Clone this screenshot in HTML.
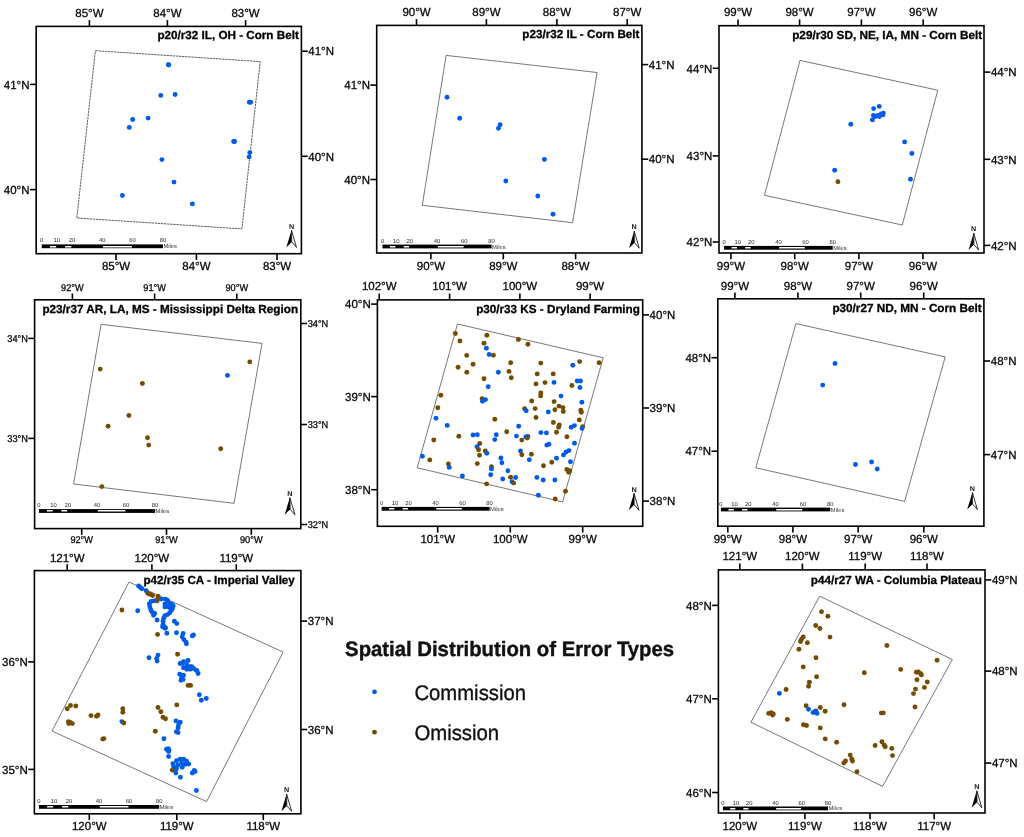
<!DOCTYPE html>
<html><head><meta charset="utf-8"><style>
html,body{margin:0;padding:0;background:#fff;}
svg{display:block;will-change:transform;text-rendering:geometricPrecision;}
text{font-family:"Liberation Sans", sans-serif;}
.ax{stroke:#111;stroke-width:0.3;}
</style></head><body>
<svg width="1024" height="837" viewBox="0 0 1024 837">
<rect width="1024" height="837" fill="#fff"/>
<text x="345.1" y="655.6" font-size="20.8" font-weight="bold" fill="#111" stroke="#111" stroke-width="0.4" textLength="329" lengthAdjust="spacingAndGlyphs">Spatial Distribution of Error Types</text>
<circle cx="374.5" cy="691.8" r="2.4" fill="#005CE6"/>
<circle cx="374.5" cy="732.2" r="2.4" fill="#734C00"/>
<text x="414.4" y="699.9" font-size="21.3" fill="#111" stroke="#111" stroke-width="0.35" textLength="111.6" lengthAdjust="spacingAndGlyphs">Commission</text>
<text x="414.5" y="740.0" font-size="21.3" fill="#111" stroke="#111" stroke-width="0.35" textLength="84.6" lengthAdjust="spacingAndGlyphs">Omission</text>
<g>
<rect x="36.2" y="26.4" width="265.20" height="227.30" fill="none" stroke="#000" stroke-width="1.6"/>
<line x1="89.4" y1="20.099999999999998" x2="89.4" y2="26.4" stroke="#000" stroke-width="1.6"/>
<text x="89.40" y="16.90" font-size="11.73" text-anchor="middle" class="ax" textLength="28.24" lengthAdjust="spacingAndGlyphs">85°W</text>
<line x1="167.4" y1="20.099999999999998" x2="167.4" y2="26.4" stroke="#000" stroke-width="1.6"/>
<text x="167.40" y="16.90" font-size="11.73" text-anchor="middle" class="ax" textLength="28.24" lengthAdjust="spacingAndGlyphs">84°W</text>
<line x1="245.6" y1="20.099999999999998" x2="245.6" y2="26.4" stroke="#000" stroke-width="1.6"/>
<text x="245.60" y="16.90" font-size="11.73" text-anchor="middle" class="ax" textLength="28.24" lengthAdjust="spacingAndGlyphs">83°W</text>
<line x1="116.0" y1="253.7" x2="116.0" y2="260.0" stroke="#000" stroke-width="1.6"/>
<text x="116.00" y="270.40" font-size="11.73" text-anchor="middle" class="ax" textLength="28.24" lengthAdjust="spacingAndGlyphs">85°W</text>
<line x1="196.4" y1="253.7" x2="196.4" y2="260.0" stroke="#000" stroke-width="1.6"/>
<text x="196.40" y="270.40" font-size="11.73" text-anchor="middle" class="ax" textLength="28.24" lengthAdjust="spacingAndGlyphs">84°W</text>
<line x1="277.0" y1="253.7" x2="277.0" y2="260.0" stroke="#000" stroke-width="1.6"/>
<text x="277.00" y="270.40" font-size="11.73" text-anchor="middle" class="ax" textLength="28.24" lengthAdjust="spacingAndGlyphs">83°W</text>
<line x1="29.900000000000002" y1="84.4" x2="36.2" y2="84.4" stroke="#000" stroke-width="1.6"/>
<text x="29.50" y="88.64" font-size="11.73" text-anchor="end" class="ax" textLength="25.69" lengthAdjust="spacingAndGlyphs">41°N</text>
<line x1="29.900000000000002" y1="189.6" x2="36.2" y2="189.6" stroke="#000" stroke-width="1.6"/>
<text x="29.50" y="193.84" font-size="11.73" text-anchor="end" class="ax" textLength="25.69" lengthAdjust="spacingAndGlyphs">40°N</text>
<line x1="301.4" y1="51.2" x2="307.7" y2="51.2" stroke="#000" stroke-width="1.6"/>
<text x="308.30" y="55.44" font-size="11.73" text-anchor="start" class="ax" textLength="25.69" lengthAdjust="spacingAndGlyphs">41°N</text>
<line x1="301.4" y1="156.3" x2="307.7" y2="156.3" stroke="#000" stroke-width="1.6"/>
<text x="308.30" y="160.54" font-size="11.73" text-anchor="start" class="ax" textLength="25.69" lengthAdjust="spacingAndGlyphs">40°N</text>
<text x="298.80" y="38.75" font-size="11.7" text-anchor="end" font-weight="bold" fill="#000" textLength="141.4" lengthAdjust="spacingAndGlyphs" stroke="#000" stroke-width="0.3">p20/r32 IL, OH - Corn Belt</text>
<polygon points="95.4,50.7 260.2,61.6 241.9,228.9 76.8,218.0" fill="none" stroke="#333" stroke-width="0.8" stroke-dasharray="2.4,0.7"/>
<circle cx="168.8" cy="65.0" r="2.45" fill="#005CE6"/>
<circle cx="168.3" cy="64.6" r="2.45" fill="#005CE6"/>
<circle cx="160.8" cy="95.4" r="2.45" fill="#005CE6"/>
<circle cx="175.1" cy="94.5" r="2.45" fill="#005CE6"/>
<circle cx="249.3" cy="102.2" r="2.45" fill="#005CE6"/>
<circle cx="250.7" cy="102.2" r="2.45" fill="#005CE6"/>
<circle cx="132.7" cy="119.5" r="2.45" fill="#005CE6"/>
<circle cx="148.1" cy="118.1" r="2.45" fill="#005CE6"/>
<circle cx="129.3" cy="127.4" r="2.45" fill="#005CE6"/>
<circle cx="233.6" cy="141.5" r="2.45" fill="#005CE6"/>
<circle cx="234.6" cy="141.5" r="2.45" fill="#005CE6"/>
<circle cx="249.8" cy="152.6" r="2.45" fill="#005CE6"/>
<circle cx="249.1" cy="156.9" r="2.45" fill="#005CE6"/>
<circle cx="161.9" cy="159.6" r="2.45" fill="#005CE6"/>
<circle cx="174.0" cy="182.1" r="2.45" fill="#005CE6"/>
<circle cx="122.4" cy="195.5" r="2.45" fill="#005CE6"/>
<circle cx="192.4" cy="203.9" r="2.45" fill="#005CE6"/>
<rect x="41.70" y="244.40" width="121.20" height="3.8" fill="#000"/>
<rect x="49.98" y="246.00" width="6.18" height="1.5" fill="#fff"/>
<rect x="65.13" y="246.00" width="6.18" height="1.5" fill="#fff"/>
<rect x="103.00" y="246.00" width="28.90" height="1.5" fill="#fff"/>
<text x="41.70" y="242.40" font-size="5.8" text-anchor="middle" fill="#222">0</text>
<text x="56.85" y="242.40" font-size="5.8" text-anchor="middle" fill="#222">10</text>
<text x="72.00" y="242.40" font-size="5.8" text-anchor="middle" fill="#222">20</text>
<text x="102.30" y="242.40" font-size="5.8" text-anchor="middle" fill="#222">40</text>
<text x="132.60" y="242.40" font-size="5.8" text-anchor="middle" fill="#222">60</text>
<text x="162.90" y="242.40" font-size="5.8" text-anchor="middle" fill="#222">80</text>
<text x="163.40" y="248.30" font-size="5.8" text-anchor="start" fill="#333">Miles</text>
<text x="291.50" y="228.60" font-size="7.0" font-weight="bold" text-anchor="middle" fill="#111" textLength="5.2" lengthAdjust="spacingAndGlyphs">N</text>
<path d="M291.50,230.30 L286.30,247.40 L291.70,241.90 Z" fill="#000"/>
<path d="M291.50,230.30 L296.50,247.40 L291.70,241.90 Z" fill="#fff" stroke="#000" stroke-width="0.8" stroke-linejoin="round"/>
</g>
<g>
<rect x="376.7" y="25.4" width="265.20" height="227.60" fill="none" stroke="#000" stroke-width="1.6"/>
<line x1="416.5" y1="19.099999999999998" x2="416.5" y2="25.4" stroke="#000" stroke-width="1.6"/>
<text x="416.50" y="16.10" font-size="11.73" text-anchor="middle" class="ax" textLength="28.24" lengthAdjust="spacingAndGlyphs">90°W</text>
<line x1="486.4" y1="19.099999999999998" x2="486.4" y2="25.4" stroke="#000" stroke-width="1.6"/>
<text x="486.40" y="16.10" font-size="11.73" text-anchor="middle" class="ax" textLength="28.24" lengthAdjust="spacingAndGlyphs">89°W</text>
<line x1="556.9" y1="19.099999999999998" x2="556.9" y2="25.4" stroke="#000" stroke-width="1.6"/>
<text x="556.90" y="16.10" font-size="11.73" text-anchor="middle" class="ax" textLength="28.24" lengthAdjust="spacingAndGlyphs">88°W</text>
<line x1="627.2" y1="19.099999999999998" x2="627.2" y2="25.4" stroke="#000" stroke-width="1.6"/>
<text x="627.20" y="16.10" font-size="11.73" text-anchor="middle" class="ax" textLength="28.24" lengthAdjust="spacingAndGlyphs">87°W</text>
<line x1="430.9" y1="253.0" x2="430.9" y2="259.3" stroke="#000" stroke-width="1.6"/>
<text x="430.90" y="269.50" font-size="11.73" text-anchor="middle" class="ax" textLength="28.24" lengthAdjust="spacingAndGlyphs">90°W</text>
<line x1="503.3" y1="253.0" x2="503.3" y2="259.3" stroke="#000" stroke-width="1.6"/>
<text x="503.30" y="269.50" font-size="11.73" text-anchor="middle" class="ax" textLength="28.24" lengthAdjust="spacingAndGlyphs">89°W</text>
<line x1="575.6" y1="253.0" x2="575.6" y2="259.3" stroke="#000" stroke-width="1.6"/>
<text x="575.60" y="269.50" font-size="11.73" text-anchor="middle" class="ax" textLength="28.24" lengthAdjust="spacingAndGlyphs">88°W</text>
<line x1="370.4" y1="85.1" x2="376.7" y2="85.1" stroke="#000" stroke-width="1.6"/>
<text x="370.00" y="89.34" font-size="11.73" text-anchor="end" class="ax" textLength="25.69" lengthAdjust="spacingAndGlyphs">41°N</text>
<line x1="370.4" y1="179.5" x2="376.7" y2="179.5" stroke="#000" stroke-width="1.6"/>
<text x="370.00" y="183.74" font-size="11.73" text-anchor="end" class="ax" textLength="25.69" lengthAdjust="spacingAndGlyphs">40°N</text>
<line x1="641.9" y1="64.6" x2="648.1999999999999" y2="64.6" stroke="#000" stroke-width="1.6"/>
<text x="648.80" y="68.84" font-size="11.73" text-anchor="start" class="ax" textLength="25.69" lengthAdjust="spacingAndGlyphs">41°N</text>
<line x1="641.9" y1="159.2" x2="648.1999999999999" y2="159.2" stroke="#000" stroke-width="1.6"/>
<text x="648.80" y="163.44" font-size="11.73" text-anchor="start" class="ax" textLength="25.69" lengthAdjust="spacingAndGlyphs">40°N</text>
<text x="639.50" y="37.80" font-size="11.7" text-anchor="end" font-weight="bold" fill="#000" textLength="117.2" lengthAdjust="spacingAndGlyphs" stroke="#000" stroke-width="0.3">p23/r32 IL - Corn Belt</text>
<polygon points="446.1,55.4 597.1,72.5 572.6,222.7 422.3,205.3" fill="none" stroke="#555" stroke-width="0.8"/>
<circle cx="447.0" cy="97.2" r="2.45" fill="#005CE6"/>
<circle cx="459.7" cy="118.3" r="2.45" fill="#005CE6"/>
<circle cx="500.1" cy="124.7" r="2.45" fill="#005CE6"/>
<circle cx="498.5" cy="128.3" r="2.45" fill="#005CE6"/>
<circle cx="544.4" cy="159.4" r="2.45" fill="#005CE6"/>
<circle cx="505.8" cy="181.0" r="2.45" fill="#005CE6"/>
<circle cx="537.8" cy="196.0" r="2.45" fill="#005CE6"/>
<circle cx="553.0" cy="214.3" r="2.45" fill="#005CE6"/>
<rect x="382.50" y="244.60" width="109.10" height="3.8" fill="#000"/>
<rect x="390.02" y="246.00" width="5.42" height="1.5" fill="#fff"/>
<rect x="403.66" y="246.00" width="5.42" height="1.5" fill="#fff"/>
<rect x="437.75" y="246.00" width="25.88" height="1.5" fill="#fff"/>
<text x="382.50" y="242.60" font-size="5.8" text-anchor="middle" fill="#222">0</text>
<text x="396.14" y="242.60" font-size="5.8" text-anchor="middle" fill="#222">10</text>
<text x="409.77" y="242.60" font-size="5.8" text-anchor="middle" fill="#222">20</text>
<text x="437.05" y="242.60" font-size="5.8" text-anchor="middle" fill="#222">40</text>
<text x="464.33" y="242.60" font-size="5.8" text-anchor="middle" fill="#222">60</text>
<text x="491.60" y="242.60" font-size="5.8" text-anchor="middle" fill="#222">80</text>
<text x="492.10" y="248.50" font-size="5.8" text-anchor="start" fill="#333">Miles</text>
<text x="634.20" y="229.40" font-size="7.0" font-weight="bold" text-anchor="middle" fill="#111" textLength="5.2" lengthAdjust="spacingAndGlyphs">N</text>
<path d="M634.20,231.10 L629.00,248.20 L634.40,242.70 Z" fill="#000"/>
<path d="M634.20,231.10 L639.20,248.20 L634.40,242.70 Z" fill="#fff" stroke="#000" stroke-width="0.8" stroke-linejoin="round"/>
</g>
<g>
<rect x="719.0" y="25.7" width="265.00" height="227.30" fill="none" stroke="#000" stroke-width="1.6"/>
<line x1="738.0" y1="19.4" x2="738.0" y2="25.7" stroke="#000" stroke-width="1.6"/>
<text x="738.00" y="16.10" font-size="11.73" text-anchor="middle" class="ax" textLength="28.24" lengthAdjust="spacingAndGlyphs">99°W</text>
<line x1="799.6" y1="19.4" x2="799.6" y2="25.7" stroke="#000" stroke-width="1.6"/>
<text x="799.60" y="16.10" font-size="11.73" text-anchor="middle" class="ax" textLength="28.24" lengthAdjust="spacingAndGlyphs">98°W</text>
<line x1="861.4" y1="19.4" x2="861.4" y2="25.7" stroke="#000" stroke-width="1.6"/>
<text x="861.40" y="16.10" font-size="11.73" text-anchor="middle" class="ax" textLength="28.24" lengthAdjust="spacingAndGlyphs">97°W</text>
<line x1="923.2" y1="19.4" x2="923.2" y2="25.7" stroke="#000" stroke-width="1.6"/>
<text x="923.20" y="16.10" font-size="11.73" text-anchor="middle" class="ax" textLength="28.24" lengthAdjust="spacingAndGlyphs">96°W</text>
<line x1="730.9" y1="253.0" x2="730.9" y2="259.3" stroke="#000" stroke-width="1.6"/>
<text x="730.90" y="269.70" font-size="11.73" text-anchor="middle" class="ax" textLength="28.24" lengthAdjust="spacingAndGlyphs">99°W</text>
<line x1="794.7" y1="253.0" x2="794.7" y2="259.3" stroke="#000" stroke-width="1.6"/>
<text x="794.70" y="269.70" font-size="11.73" text-anchor="middle" class="ax" textLength="28.24" lengthAdjust="spacingAndGlyphs">98°W</text>
<line x1="858.9" y1="253.0" x2="858.9" y2="259.3" stroke="#000" stroke-width="1.6"/>
<text x="858.90" y="269.70" font-size="11.73" text-anchor="middle" class="ax" textLength="28.24" lengthAdjust="spacingAndGlyphs">97°W</text>
<line x1="922.9" y1="253.0" x2="922.9" y2="259.3" stroke="#000" stroke-width="1.6"/>
<text x="922.90" y="269.70" font-size="11.73" text-anchor="middle" class="ax" textLength="28.24" lengthAdjust="spacingAndGlyphs">96°W</text>
<line x1="712.7" y1="68.3" x2="719.0" y2="68.3" stroke="#000" stroke-width="1.6"/>
<text x="712.30" y="72.54" font-size="11.73" text-anchor="end" class="ax" textLength="25.69" lengthAdjust="spacingAndGlyphs">44°N</text>
<line x1="712.7" y1="155.9" x2="719.0" y2="155.9" stroke="#000" stroke-width="1.6"/>
<text x="712.30" y="160.14" font-size="11.73" text-anchor="end" class="ax" textLength="25.69" lengthAdjust="spacingAndGlyphs">43°N</text>
<line x1="712.7" y1="242.0" x2="719.0" y2="242.0" stroke="#000" stroke-width="1.6"/>
<text x="712.30" y="246.24" font-size="11.73" text-anchor="end" class="ax" textLength="25.69" lengthAdjust="spacingAndGlyphs">42°N</text>
<line x1="984.0" y1="72.1" x2="990.3" y2="72.1" stroke="#000" stroke-width="1.6"/>
<text x="990.90" y="76.34" font-size="11.73" text-anchor="start" class="ax" textLength="25.69" lengthAdjust="spacingAndGlyphs">44°N</text>
<line x1="984.0" y1="159.3" x2="990.3" y2="159.3" stroke="#000" stroke-width="1.6"/>
<text x="990.90" y="163.54" font-size="11.73" text-anchor="start" class="ax" textLength="25.69" lengthAdjust="spacingAndGlyphs">43°N</text>
<line x1="984.0" y1="245.4" x2="990.3" y2="245.4" stroke="#000" stroke-width="1.6"/>
<text x="990.90" y="249.64" font-size="11.73" text-anchor="start" class="ax" textLength="25.69" lengthAdjust="spacingAndGlyphs">42°N</text>
<text x="982.20" y="39.10" font-size="11.7" text-anchor="end" font-weight="bold" fill="#000" textLength="190" lengthAdjust="spacingAndGlyphs" stroke="#000" stroke-width="0.3">p29/r30 SD, NE, IA, MN - Corn Belt</text>
<polygon points="800.0,60.4 937.8,90.2 902.3,225.0 764.5,195.3" fill="none" stroke="#555" stroke-width="0.8"/>
<circle cx="873.6" cy="108.6" r="2.45" fill="#005CE6"/>
<circle cx="879.2" cy="106.4" r="2.45" fill="#005CE6"/>
<circle cx="873.4" cy="115.4" r="2.45" fill="#005CE6"/>
<circle cx="872.4" cy="119.9" r="2.45" fill="#005CE6"/>
<circle cx="876.5" cy="116.1" r="2.45" fill="#005CE6"/>
<circle cx="879.4" cy="116.5" r="2.45" fill="#005CE6"/>
<circle cx="881.2" cy="114.0" r="2.45" fill="#005CE6"/>
<circle cx="883.3" cy="113.1" r="2.45" fill="#005CE6"/>
<circle cx="882.9" cy="114.9" r="2.45" fill="#005CE6"/>
<circle cx="874.8" cy="116.5" r="2.45" fill="#005CE6"/>
<circle cx="878.0" cy="115.5" r="2.45" fill="#005CE6"/>
<circle cx="850.8" cy="124.2" r="2.45" fill="#005CE6"/>
<circle cx="904.6" cy="141.9" r="2.45" fill="#005CE6"/>
<circle cx="911.9" cy="153.5" r="2.45" fill="#005CE6"/>
<circle cx="834.7" cy="170.3" r="2.45" fill="#005CE6"/>
<circle cx="910.5" cy="179.2" r="2.45" fill="#005CE6"/>
<circle cx="837.9" cy="181.7" r="2.45" fill="#734C00"/>
<rect x="724.10" y="245.90" width="108.60" height="3.8" fill="#000"/>
<rect x="731.59" y="247.00" width="5.39" height="1.5" fill="#fff"/>
<rect x="745.16" y="247.00" width="5.39" height="1.5" fill="#fff"/>
<rect x="779.10" y="247.00" width="25.75" height="1.5" fill="#fff"/>
<text x="724.10" y="243.90" font-size="5.8" text-anchor="middle" fill="#222">0</text>
<text x="737.68" y="243.90" font-size="5.8" text-anchor="middle" fill="#222">10</text>
<text x="751.25" y="243.90" font-size="5.8" text-anchor="middle" fill="#222">20</text>
<text x="778.40" y="243.90" font-size="5.8" text-anchor="middle" fill="#222">40</text>
<text x="805.55" y="243.90" font-size="5.8" text-anchor="middle" fill="#222">60</text>
<text x="832.70" y="243.90" font-size="5.8" text-anchor="middle" fill="#222">80</text>
<text x="833.20" y="249.80" font-size="5.8" text-anchor="start" fill="#333">Miles</text>
<text x="973.70" y="231.30" font-size="7.0" font-weight="bold" text-anchor="middle" fill="#111" textLength="5.2" lengthAdjust="spacingAndGlyphs">N</text>
<path d="M973.70,233.00 L968.50,250.10 L973.90,244.60 Z" fill="#000"/>
<path d="M973.70,233.00 L978.70,250.10 L973.90,244.60 Z" fill="#fff" stroke="#000" stroke-width="0.8" stroke-linejoin="round"/>
</g>
<g>
<rect x="34.6" y="299.8" width="266.20" height="228.80" fill="none" stroke="#000" stroke-width="1.6"/>
<line x1="72.4" y1="293.5" x2="72.4" y2="299.8" stroke="#000" stroke-width="1.6"/>
<text x="72.40" y="291.30" font-size="9.84" text-anchor="middle" class="ax" textLength="22.59" lengthAdjust="spacingAndGlyphs">92°W</text>
<line x1="154.6" y1="293.5" x2="154.6" y2="299.8" stroke="#000" stroke-width="1.6"/>
<text x="154.60" y="291.30" font-size="9.84" text-anchor="middle" class="ax" textLength="22.59" lengthAdjust="spacingAndGlyphs">91°W</text>
<line x1="236.8" y1="293.5" x2="236.8" y2="299.8" stroke="#000" stroke-width="1.6"/>
<text x="236.80" y="291.30" font-size="9.84" text-anchor="middle" class="ax" textLength="22.59" lengthAdjust="spacingAndGlyphs">90°W</text>
<line x1="81.7" y1="528.6" x2="81.7" y2="534.9" stroke="#000" stroke-width="1.6"/>
<text x="81.70" y="543.10" font-size="9.84" text-anchor="middle" class="ax" textLength="22.59" lengthAdjust="spacingAndGlyphs">92°W</text>
<line x1="166.5" y1="528.6" x2="166.5" y2="534.9" stroke="#000" stroke-width="1.6"/>
<text x="166.50" y="543.10" font-size="9.84" text-anchor="middle" class="ax" textLength="22.59" lengthAdjust="spacingAndGlyphs">91°W</text>
<line x1="251.3" y1="528.6" x2="251.3" y2="534.9" stroke="#000" stroke-width="1.6"/>
<text x="251.30" y="543.10" font-size="9.84" text-anchor="middle" class="ax" textLength="22.59" lengthAdjust="spacingAndGlyphs">90°W</text>
<line x1="28.3" y1="338.4" x2="34.6" y2="338.4" stroke="#000" stroke-width="1.6"/>
<text x="27.90" y="341.81" font-size="9.84" text-anchor="end" class="ax" textLength="20.55" lengthAdjust="spacingAndGlyphs">34°N</text>
<line x1="28.3" y1="438.4" x2="34.6" y2="438.4" stroke="#000" stroke-width="1.6"/>
<text x="27.90" y="441.81" font-size="9.84" text-anchor="end" class="ax" textLength="20.55" lengthAdjust="spacingAndGlyphs">33°N</text>
<line x1="300.8" y1="323.5" x2="307.1" y2="323.5" stroke="#000" stroke-width="1.6"/>
<text x="307.70" y="326.91" font-size="9.84" text-anchor="start" class="ax" textLength="20.55" lengthAdjust="spacingAndGlyphs">34°N</text>
<line x1="300.8" y1="424.5" x2="307.1" y2="424.5" stroke="#000" stroke-width="1.6"/>
<text x="307.70" y="427.91" font-size="9.84" text-anchor="start" class="ax" textLength="20.55" lengthAdjust="spacingAndGlyphs">33°N</text>
<line x1="300.8" y1="524.5" x2="307.1" y2="524.5" stroke="#000" stroke-width="1.6"/>
<text x="307.70" y="527.91" font-size="9.84" text-anchor="start" class="ax" textLength="20.55" lengthAdjust="spacingAndGlyphs">32°N</text>
<text x="298.10" y="313.20" font-size="11.7" text-anchor="end" font-weight="bold" fill="#000" textLength="255.7" lengthAdjust="spacingAndGlyphs" stroke="#000" stroke-width="0.3">p23/r37 AR, LA, MS - Mississippi Delta Region</text>
<polygon points="101.1,324.3 262.0,343.4 234.0,503.3 73.6,484.0" fill="none" stroke="#555" stroke-width="0.8"/>
<circle cx="100.2" cy="369.1" r="2.45" fill="#734C00"/>
<circle cx="249.8" cy="361.9" r="2.45" fill="#734C00"/>
<circle cx="227.5" cy="375.4" r="2.45" fill="#005CE6"/>
<circle cx="142.4" cy="383.5" r="2.45" fill="#734C00"/>
<circle cx="128.9" cy="415.5" r="2.45" fill="#734C00"/>
<circle cx="108.1" cy="426.2" r="2.45" fill="#734C00"/>
<circle cx="147.5" cy="437.8" r="2.45" fill="#734C00"/>
<circle cx="148.7" cy="445.1" r="2.45" fill="#734C00"/>
<circle cx="220.7" cy="448.8" r="2.45" fill="#734C00"/>
<circle cx="101.8" cy="486.6" r="2.45" fill="#734C00"/>
<rect x="38.90" y="509.10" width="116.20" height="3.8" fill="#000"/>
<rect x="46.86" y="510.00" width="5.86" height="1.5" fill="#fff"/>
<rect x="61.39" y="510.00" width="5.86" height="1.5" fill="#fff"/>
<rect x="97.70" y="510.00" width="27.65" height="1.5" fill="#fff"/>
<text x="38.90" y="507.10" font-size="5.8" text-anchor="middle" fill="#222">0</text>
<text x="53.42" y="507.10" font-size="5.8" text-anchor="middle" fill="#222">10</text>
<text x="67.95" y="507.10" font-size="5.8" text-anchor="middle" fill="#222">20</text>
<text x="97.00" y="507.10" font-size="5.8" text-anchor="middle" fill="#222">40</text>
<text x="126.05" y="507.10" font-size="5.8" text-anchor="middle" fill="#222">60</text>
<text x="155.10" y="507.10" font-size="5.8" text-anchor="middle" fill="#222">80</text>
<text x="155.60" y="513.00" font-size="5.8" text-anchor="start" fill="#333">Miles</text>
<text x="289.90" y="495.90" font-size="7.0" font-weight="bold" text-anchor="middle" fill="#111" textLength="5.2" lengthAdjust="spacingAndGlyphs">N</text>
<path d="M289.90,497.60 L284.70,514.70 L290.10,509.20 Z" fill="#000"/>
<path d="M289.90,497.60 L294.90,514.70 L290.10,509.20 Z" fill="#fff" stroke="#000" stroke-width="0.8" stroke-linejoin="round"/>
</g>
<g>
<rect x="377.4" y="299.9" width="265.30" height="226.40" fill="none" stroke="#000" stroke-width="1.6"/>
<line x1="379.2" y1="293.59999999999997" x2="379.2" y2="299.9" stroke="#000" stroke-width="1.6"/>
<text x="379.20" y="290.30" font-size="11.73" text-anchor="middle" class="ax" textLength="34.64" lengthAdjust="spacingAndGlyphs">102°W</text>
<line x1="449.6" y1="293.59999999999997" x2="449.6" y2="299.9" stroke="#000" stroke-width="1.6"/>
<text x="449.60" y="290.30" font-size="11.73" text-anchor="middle" class="ax" textLength="34.64" lengthAdjust="spacingAndGlyphs">101°W</text>
<line x1="519.9" y1="293.59999999999997" x2="519.9" y2="299.9" stroke="#000" stroke-width="1.6"/>
<text x="519.90" y="290.30" font-size="11.73" text-anchor="middle" class="ax" textLength="34.64" lengthAdjust="spacingAndGlyphs">100°W</text>
<line x1="590.1" y1="293.59999999999997" x2="590.1" y2="299.9" stroke="#000" stroke-width="1.6"/>
<text x="590.10" y="290.30" font-size="11.73" text-anchor="middle" class="ax" textLength="28.24" lengthAdjust="spacingAndGlyphs">99°W</text>
<line x1="437.7" y1="526.3" x2="437.7" y2="532.5999999999999" stroke="#000" stroke-width="1.6"/>
<text x="437.70" y="542.90" font-size="11.73" text-anchor="middle" class="ax" textLength="34.64" lengthAdjust="spacingAndGlyphs">101°W</text>
<line x1="510.3" y1="526.3" x2="510.3" y2="532.5999999999999" stroke="#000" stroke-width="1.6"/>
<text x="510.30" y="542.90" font-size="11.73" text-anchor="middle" class="ax" textLength="34.64" lengthAdjust="spacingAndGlyphs">100°W</text>
<line x1="582.7" y1="526.3" x2="582.7" y2="532.5999999999999" stroke="#000" stroke-width="1.6"/>
<text x="582.70" y="542.90" font-size="11.73" text-anchor="middle" class="ax" textLength="28.24" lengthAdjust="spacingAndGlyphs">99°W</text>
<line x1="371.09999999999997" y1="304.1" x2="377.4" y2="304.1" stroke="#000" stroke-width="1.6"/>
<text x="370.70" y="308.34" font-size="11.73" text-anchor="end" class="ax" textLength="25.69" lengthAdjust="spacingAndGlyphs">40°N</text>
<line x1="371.09999999999997" y1="396.6" x2="377.4" y2="396.6" stroke="#000" stroke-width="1.6"/>
<text x="370.70" y="400.84" font-size="11.73" text-anchor="end" class="ax" textLength="25.69" lengthAdjust="spacingAndGlyphs">39°N</text>
<line x1="371.09999999999997" y1="489.7" x2="377.4" y2="489.7" stroke="#000" stroke-width="1.6"/>
<text x="370.70" y="493.94" font-size="11.73" text-anchor="end" class="ax" textLength="25.69" lengthAdjust="spacingAndGlyphs">38°N</text>
<line x1="642.7" y1="314.9" x2="649.0" y2="314.9" stroke="#000" stroke-width="1.6"/>
<text x="649.60" y="319.14" font-size="11.73" text-anchor="start" class="ax" textLength="25.69" lengthAdjust="spacingAndGlyphs">40°N</text>
<line x1="642.7" y1="408.0" x2="649.0" y2="408.0" stroke="#000" stroke-width="1.6"/>
<text x="649.60" y="412.24" font-size="11.73" text-anchor="start" class="ax" textLength="25.69" lengthAdjust="spacingAndGlyphs">39°N</text>
<line x1="642.7" y1="501.1" x2="649.0" y2="501.1" stroke="#000" stroke-width="1.6"/>
<text x="649.60" y="505.34" font-size="11.73" text-anchor="start" class="ax" textLength="25.69" lengthAdjust="spacingAndGlyphs">38°N</text>
<text x="639.80" y="312.50" font-size="11.7" text-anchor="end" font-weight="bold" fill="#000" textLength="163.6" lengthAdjust="spacingAndGlyphs" stroke="#000" stroke-width="0.3">p30/r33 KS - Dryland Farming</text>
<polygon points="457.5,324.0 603.2,357.8 562.6,501.9 417.2,467.8" fill="none" stroke="#555" stroke-width="0.8"/>
<circle cx="455.4" cy="333.5" r="2.45" fill="#734C00"/>
<circle cx="486.9" cy="335.3" r="2.45" fill="#734C00"/>
<circle cx="518.4" cy="339.5" r="2.45" fill="#734C00"/>
<circle cx="459.9" cy="341.0" r="2.45" fill="#734C00"/>
<circle cx="484.0" cy="343.2" r="2.45" fill="#734C00"/>
<circle cx="486.4" cy="348.2" r="2.45" fill="#005CE6"/>
<circle cx="489.1" cy="354.5" r="2.45" fill="#005CE6"/>
<circle cx="493.4" cy="355.2" r="2.45" fill="#734C00"/>
<circle cx="466.7" cy="355.4" r="2.45" fill="#734C00"/>
<circle cx="510.7" cy="362.8" r="2.45" fill="#734C00"/>
<circle cx="473.1" cy="364.3" r="2.45" fill="#734C00"/>
<circle cx="458.1" cy="367.2" r="2.45" fill="#734C00"/>
<circle cx="466.8" cy="372.2" r="2.45" fill="#734C00"/>
<circle cx="498.3" cy="372.2" r="2.45" fill="#005CE6"/>
<circle cx="509.0" cy="371.4" r="2.45" fill="#734C00"/>
<circle cx="511.3" cy="377.7" r="2.45" fill="#734C00"/>
<circle cx="484.0" cy="378.7" r="2.45" fill="#734C00"/>
<circle cx="488.2" cy="386.7" r="2.45" fill="#005CE6"/>
<circle cx="440.8" cy="395.3" r="2.45" fill="#734C00"/>
<circle cx="482.1" cy="398.6" r="2.45" fill="#734C00"/>
<circle cx="485.5" cy="399.6" r="2.45" fill="#005CE6"/>
<circle cx="482.5" cy="401.2" r="2.45" fill="#005CE6"/>
<circle cx="437.8" cy="407.8" r="2.45" fill="#734C00"/>
<circle cx="527.9" cy="344.3" r="2.45" fill="#734C00"/>
<circle cx="540.8" cy="363.1" r="2.45" fill="#734C00"/>
<circle cx="579.6" cy="361.6" r="2.45" fill="#734C00"/>
<circle cx="572.8" cy="365.3" r="2.45" fill="#005CE6"/>
<circle cx="599.1" cy="362.8" r="2.45" fill="#734C00"/>
<circle cx="537.2" cy="373.9" r="2.45" fill="#734C00"/>
<circle cx="553.2" cy="373.9" r="2.45" fill="#734C00"/>
<circle cx="554.0" cy="382.4" r="2.45" fill="#005CE6"/>
<circle cx="545.0" cy="382.6" r="2.45" fill="#734C00"/>
<circle cx="536.0" cy="383.9" r="2.45" fill="#734C00"/>
<circle cx="577.2" cy="381.0" r="2.45" fill="#005CE6"/>
<circle cx="580.5" cy="381.0" r="2.45" fill="#005CE6"/>
<circle cx="579.9" cy="387.5" r="2.45" fill="#005CE6"/>
<circle cx="571.9" cy="385.5" r="2.45" fill="#734C00"/>
<circle cx="540.8" cy="393.0" r="2.45" fill="#734C00"/>
<circle cx="540.6" cy="395.9" r="2.45" fill="#734C00"/>
<circle cx="561.0" cy="396.1" r="2.45" fill="#005CE6"/>
<circle cx="531.7" cy="401.0" r="2.45" fill="#734C00"/>
<circle cx="554.1" cy="401.6" r="2.45" fill="#734C00"/>
<circle cx="581.9" cy="402.3" r="2.45" fill="#005CE6"/>
<circle cx="559.0" cy="406.1" r="2.45" fill="#734C00"/>
<circle cx="562.9" cy="407.6" r="2.45" fill="#734C00"/>
<circle cx="563.3" cy="411.5" r="2.45" fill="#734C00"/>
<circle cx="554.9" cy="409.8" r="2.45" fill="#734C00"/>
<circle cx="535.1" cy="408.6" r="2.45" fill="#734C00"/>
<circle cx="524.6" cy="408.8" r="2.45" fill="#734C00"/>
<circle cx="526.2" cy="410.8" r="2.45" fill="#005CE6"/>
<circle cx="548.3" cy="412.0" r="2.45" fill="#005CE6"/>
<circle cx="580.8" cy="410.2" r="2.45" fill="#734C00"/>
<circle cx="581.3" cy="412.3" r="2.45" fill="#734C00"/>
<circle cx="436.0" cy="418.3" r="2.45" fill="#005CE6"/>
<circle cx="447.2" cy="425.4" r="2.45" fill="#005CE6"/>
<circle cx="494.8" cy="419.2" r="2.45" fill="#734C00"/>
<circle cx="518.7" cy="426.3" r="2.45" fill="#005CE6"/>
<circle cx="506.7" cy="431.8" r="2.45" fill="#734C00"/>
<circle cx="516.5" cy="436.1" r="2.45" fill="#005CE6"/>
<circle cx="473.0" cy="435.0" r="2.45" fill="#005CE6"/>
<circle cx="477.3" cy="434.7" r="2.45" fill="#005CE6"/>
<circle cx="496.3" cy="434.7" r="2.45" fill="#005CE6"/>
<circle cx="494.8" cy="439.6" r="2.45" fill="#005CE6"/>
<circle cx="458.8" cy="436.3" r="2.45" fill="#734C00"/>
<circle cx="433.8" cy="440.0" r="2.45" fill="#734C00"/>
<circle cx="479.7" cy="443.5" r="2.45" fill="#734C00"/>
<circle cx="477.0" cy="446.8" r="2.45" fill="#005CE6"/>
<circle cx="478.6" cy="449.8" r="2.45" fill="#734C00"/>
<circle cx="485.2" cy="451.0" r="2.45" fill="#734C00"/>
<circle cx="486.9" cy="453.2" r="2.45" fill="#005CE6"/>
<circle cx="520.5" cy="451.0" r="2.45" fill="#005CE6"/>
<circle cx="479.5" cy="455.3" r="2.45" fill="#734C00"/>
<circle cx="422.4" cy="456.3" r="2.45" fill="#005CE6"/>
<circle cx="429.8" cy="459.9" r="2.45" fill="#734C00"/>
<circle cx="500.9" cy="458.0" r="2.45" fill="#005CE6"/>
<circle cx="501.9" cy="462.8" r="2.45" fill="#005CE6"/>
<circle cx="477.3" cy="463.6" r="2.45" fill="#734C00"/>
<circle cx="448.4" cy="464.0" r="2.45" fill="#734C00"/>
<circle cx="449.2" cy="467.4" r="2.45" fill="#005CE6"/>
<circle cx="491.5" cy="466.8" r="2.45" fill="#734C00"/>
<circle cx="491.5" cy="468.9" r="2.45" fill="#005CE6"/>
<circle cx="507.9" cy="470.8" r="2.45" fill="#005CE6"/>
<circle cx="490.7" cy="474.7" r="2.45" fill="#005CE6"/>
<circle cx="462.4" cy="476.0" r="2.45" fill="#005CE6"/>
<circle cx="510.6" cy="477.2" r="2.45" fill="#734C00"/>
<circle cx="515.6" cy="477.5" r="2.45" fill="#005CE6"/>
<circle cx="502.7" cy="479.0" r="2.45" fill="#005CE6"/>
<circle cx="512.0" cy="481.8" r="2.45" fill="#005CE6"/>
<circle cx="513.7" cy="483.1" r="2.45" fill="#734C00"/>
<circle cx="486.6" cy="483.9" r="2.45" fill="#734C00"/>
<circle cx="536.0" cy="417.5" r="2.45" fill="#734C00"/>
<circle cx="553.4" cy="422.5" r="2.45" fill="#734C00"/>
<circle cx="559.3" cy="425.0" r="2.45" fill="#734C00"/>
<circle cx="558.6" cy="427.3" r="2.45" fill="#734C00"/>
<circle cx="579.3" cy="419.9" r="2.45" fill="#734C00"/>
<circle cx="571.2" cy="427.3" r="2.45" fill="#005CE6"/>
<circle cx="574.4" cy="425.6" r="2.45" fill="#005CE6"/>
<circle cx="582.7" cy="426.7" r="2.45" fill="#734C00"/>
<circle cx="582.0" cy="428.4" r="2.45" fill="#005CE6"/>
<circle cx="540.9" cy="432.6" r="2.45" fill="#005CE6"/>
<circle cx="546.4" cy="432.9" r="2.45" fill="#005CE6"/>
<circle cx="556.5" cy="432.2" r="2.45" fill="#734C00"/>
<circle cx="525.8" cy="436.9" r="2.45" fill="#005CE6"/>
<circle cx="527.9" cy="436.5" r="2.45" fill="#005CE6"/>
<circle cx="527.2" cy="438.1" r="2.45" fill="#734C00"/>
<circle cx="521.8" cy="440.1" r="2.45" fill="#734C00"/>
<circle cx="566.9" cy="436.7" r="2.45" fill="#734C00"/>
<circle cx="574.5" cy="443.2" r="2.45" fill="#005CE6"/>
<circle cx="546.8" cy="445.1" r="2.45" fill="#005CE6"/>
<circle cx="548.9" cy="444.2" r="2.45" fill="#005CE6"/>
<circle cx="521.8" cy="454.7" r="2.45" fill="#734C00"/>
<circle cx="531.4" cy="454.3" r="2.45" fill="#734C00"/>
<circle cx="568.9" cy="450.6" r="2.45" fill="#005CE6"/>
<circle cx="566.1" cy="452.0" r="2.45" fill="#005CE6"/>
<circle cx="563.5" cy="454.9" r="2.45" fill="#005CE6"/>
<circle cx="529.3" cy="459.7" r="2.45" fill="#005CE6"/>
<circle cx="556.5" cy="458.2" r="2.45" fill="#005CE6"/>
<circle cx="551.8" cy="462.3" r="2.45" fill="#734C00"/>
<circle cx="570.5" cy="461.8" r="2.45" fill="#005CE6"/>
<circle cx="543.5" cy="465.8" r="2.45" fill="#734C00"/>
<circle cx="566.8" cy="469.4" r="2.45" fill="#734C00"/>
<circle cx="569.8" cy="470.7" r="2.45" fill="#734C00"/>
<circle cx="568.7" cy="472.3" r="2.45" fill="#734C00"/>
<circle cx="536.9" cy="477.4" r="2.45" fill="#005CE6"/>
<circle cx="543.2" cy="480.0" r="2.45" fill="#005CE6"/>
<circle cx="554.9" cy="480.0" r="2.45" fill="#005CE6"/>
<circle cx="565.5" cy="491.2" r="2.45" fill="#734C00"/>
<circle cx="538.4" cy="495.2" r="2.45" fill="#005CE6"/>
<circle cx="555.2" cy="499.0" r="2.45" fill="#734C00"/>
<rect x="381.60" y="506.90" width="108.00" height="3.8" fill="#000"/>
<rect x="389.05" y="508.00" width="5.35" height="1.5" fill="#fff"/>
<rect x="402.55" y="508.00" width="5.35" height="1.5" fill="#fff"/>
<rect x="436.30" y="508.00" width="25.60" height="1.5" fill="#fff"/>
<text x="381.60" y="504.90" font-size="5.8" text-anchor="middle" fill="#222">0</text>
<text x="395.10" y="504.90" font-size="5.8" text-anchor="middle" fill="#222">10</text>
<text x="408.60" y="504.90" font-size="5.8" text-anchor="middle" fill="#222">20</text>
<text x="435.60" y="504.90" font-size="5.8" text-anchor="middle" fill="#222">40</text>
<text x="462.60" y="504.90" font-size="5.8" text-anchor="middle" fill="#222">60</text>
<text x="489.60" y="504.90" font-size="5.8" text-anchor="middle" fill="#222">80</text>
<text x="490.10" y="510.80" font-size="5.8" text-anchor="start" fill="#333">Miles</text>
<text x="634.00" y="491.50" font-size="7.0" font-weight="bold" text-anchor="middle" fill="#111" textLength="5.2" lengthAdjust="spacingAndGlyphs">N</text>
<path d="M634.00,493.20 L628.80,510.30 L634.20,504.80 Z" fill="#000"/>
<path d="M634.00,493.20 L639.00,510.30 L634.20,504.80 Z" fill="#fff" stroke="#000" stroke-width="0.8" stroke-linejoin="round"/>
</g>
<g>
<rect x="717.8" y="298.8" width="266.10" height="227.40" fill="none" stroke="#000" stroke-width="1.6"/>
<line x1="734.9" y1="292.5" x2="734.9" y2="298.8" stroke="#000" stroke-width="1.6"/>
<text x="734.90" y="289.50" font-size="11.73" text-anchor="middle" class="ax" textLength="28.24" lengthAdjust="spacingAndGlyphs">99°W</text>
<line x1="797.9" y1="292.5" x2="797.9" y2="298.8" stroke="#000" stroke-width="1.6"/>
<text x="797.90" y="289.50" font-size="11.73" text-anchor="middle" class="ax" textLength="28.24" lengthAdjust="spacingAndGlyphs">98°W</text>
<line x1="860.7" y1="292.5" x2="860.7" y2="298.8" stroke="#000" stroke-width="1.6"/>
<text x="860.70" y="289.50" font-size="11.73" text-anchor="middle" class="ax" textLength="28.24" lengthAdjust="spacingAndGlyphs">97°W</text>
<line x1="923.7" y1="292.5" x2="923.7" y2="298.8" stroke="#000" stroke-width="1.6"/>
<text x="923.70" y="289.50" font-size="11.73" text-anchor="middle" class="ax" textLength="28.24" lengthAdjust="spacingAndGlyphs">96°W</text>
<line x1="727.8" y1="526.2" x2="727.8" y2="532.5" stroke="#000" stroke-width="1.6"/>
<text x="727.80" y="542.90" font-size="11.73" text-anchor="middle" class="ax" textLength="28.24" lengthAdjust="spacingAndGlyphs">99°W</text>
<line x1="792.9" y1="526.2" x2="792.9" y2="532.5" stroke="#000" stroke-width="1.6"/>
<text x="792.90" y="542.90" font-size="11.73" text-anchor="middle" class="ax" textLength="28.24" lengthAdjust="spacingAndGlyphs">98°W</text>
<line x1="858.2" y1="526.2" x2="858.2" y2="532.5" stroke="#000" stroke-width="1.6"/>
<text x="858.20" y="542.90" font-size="11.73" text-anchor="middle" class="ax" textLength="28.24" lengthAdjust="spacingAndGlyphs">97°W</text>
<line x1="923.8" y1="526.2" x2="923.8" y2="532.5" stroke="#000" stroke-width="1.6"/>
<text x="923.80" y="542.90" font-size="11.73" text-anchor="middle" class="ax" textLength="28.24" lengthAdjust="spacingAndGlyphs">96°W</text>
<line x1="711.5" y1="357.7" x2="717.8" y2="357.7" stroke="#000" stroke-width="1.6"/>
<text x="711.10" y="361.94" font-size="11.73" text-anchor="end" class="ax" textLength="25.69" lengthAdjust="spacingAndGlyphs">48°N</text>
<line x1="711.5" y1="451.2" x2="717.8" y2="451.2" stroke="#000" stroke-width="1.6"/>
<text x="711.10" y="455.44" font-size="11.73" text-anchor="end" class="ax" textLength="25.69" lengthAdjust="spacingAndGlyphs">47°N</text>
<line x1="983.9" y1="361.0" x2="990.1999999999999" y2="361.0" stroke="#000" stroke-width="1.6"/>
<text x="990.80" y="365.24" font-size="11.73" text-anchor="start" class="ax" textLength="25.69" lengthAdjust="spacingAndGlyphs">48°N</text>
<line x1="983.9" y1="454.6" x2="990.1999999999999" y2="454.6" stroke="#000" stroke-width="1.6"/>
<text x="990.80" y="458.84" font-size="11.73" text-anchor="start" class="ax" textLength="25.69" lengthAdjust="spacingAndGlyphs">47°N</text>
<text x="981.70" y="311.70" font-size="11.7" text-anchor="end" font-weight="bold" fill="#000" textLength="149.3" lengthAdjust="spacingAndGlyphs" stroke="#000" stroke-width="0.3">p30/r27 ND, MN - Corn Belt</text>
<polygon points="795.9,323.6 945.2,356.9 904.7,501.4 755.8,467.8" fill="none" stroke="#555" stroke-width="0.8"/>
<circle cx="835.0" cy="363.5" r="2.45" fill="#005CE6"/>
<circle cx="822.7" cy="385.1" r="2.45" fill="#005CE6"/>
<circle cx="855.5" cy="464.5" r="2.45" fill="#005CE6"/>
<circle cx="871.6" cy="462.0" r="2.45" fill="#005CE6"/>
<circle cx="877.2" cy="469.0" r="2.45" fill="#005CE6"/>
<rect x="720.90" y="507.60" width="109.40" height="3.8" fill="#000"/>
<rect x="728.44" y="509.00" width="5.44" height="1.5" fill="#fff"/>
<rect x="742.11" y="509.00" width="5.44" height="1.5" fill="#fff"/>
<rect x="776.30" y="509.00" width="25.95" height="1.5" fill="#fff"/>
<text x="720.90" y="505.60" font-size="5.8" text-anchor="middle" fill="#222">0</text>
<text x="734.57" y="505.60" font-size="5.8" text-anchor="middle" fill="#222">10</text>
<text x="748.25" y="505.60" font-size="5.8" text-anchor="middle" fill="#222">20</text>
<text x="775.60" y="505.60" font-size="5.8" text-anchor="middle" fill="#222">40</text>
<text x="802.95" y="505.60" font-size="5.8" text-anchor="middle" fill="#222">60</text>
<text x="830.30" y="505.60" font-size="5.8" text-anchor="middle" fill="#222">80</text>
<text x="830.80" y="511.50" font-size="5.8" text-anchor="start" fill="#333">Miles</text>
<text x="972.40" y="490.80" font-size="7.0" font-weight="bold" text-anchor="middle" fill="#111" textLength="5.2" lengthAdjust="spacingAndGlyphs">N</text>
<path d="M972.40,492.50 L967.20,509.60 L972.60,504.10 Z" fill="#000"/>
<path d="M972.40,492.50 L977.40,509.60 L972.60,504.10 Z" fill="#fff" stroke="#000" stroke-width="0.8" stroke-linejoin="round"/>
</g>
<g>
<rect x="34.4" y="570.6" width="266.50" height="243.20" fill="none" stroke="#000" stroke-width="1.6"/>
<line x1="67.2" y1="564.3000000000001" x2="67.2" y2="570.6" stroke="#000" stroke-width="1.6"/>
<text x="67.20" y="561.60" font-size="11.73" text-anchor="middle" class="ax" textLength="34.64" lengthAdjust="spacingAndGlyphs">121°W</text>
<line x1="151.9" y1="564.3000000000001" x2="151.9" y2="570.6" stroke="#000" stroke-width="1.6"/>
<text x="151.90" y="561.60" font-size="11.73" text-anchor="middle" class="ax" textLength="34.64" lengthAdjust="spacingAndGlyphs">120°W</text>
<line x1="236.3" y1="564.3000000000001" x2="236.3" y2="570.6" stroke="#000" stroke-width="1.6"/>
<text x="236.30" y="561.60" font-size="11.73" text-anchor="middle" class="ax" textLength="33.78" lengthAdjust="spacingAndGlyphs">119°W</text>
<line x1="89.3" y1="813.8" x2="89.3" y2="820.0999999999999" stroke="#000" stroke-width="1.6"/>
<text x="89.30" y="830.40" font-size="11.73" text-anchor="middle" class="ax" textLength="34.64" lengthAdjust="spacingAndGlyphs">120°W</text>
<line x1="176.8" y1="813.8" x2="176.8" y2="820.0999999999999" stroke="#000" stroke-width="1.6"/>
<text x="176.80" y="830.40" font-size="11.73" text-anchor="middle" class="ax" textLength="33.78" lengthAdjust="spacingAndGlyphs">119°W</text>
<line x1="263.3" y1="813.8" x2="263.3" y2="820.0999999999999" stroke="#000" stroke-width="1.6"/>
<text x="263.30" y="830.40" font-size="11.73" text-anchor="middle" class="ax" textLength="33.78" lengthAdjust="spacingAndGlyphs">118°W</text>
<line x1="28.099999999999998" y1="661.9" x2="34.4" y2="661.9" stroke="#000" stroke-width="1.6"/>
<text x="27.70" y="666.14" font-size="11.73" text-anchor="end" class="ax" textLength="25.69" lengthAdjust="spacingAndGlyphs">36°N</text>
<line x1="28.099999999999998" y1="769.4" x2="34.4" y2="769.4" stroke="#000" stroke-width="1.6"/>
<text x="27.70" y="773.64" font-size="11.73" text-anchor="end" class="ax" textLength="25.69" lengthAdjust="spacingAndGlyphs">35°N</text>
<line x1="300.9" y1="621.1" x2="307.2" y2="621.1" stroke="#000" stroke-width="1.6"/>
<text x="307.80" y="625.34" font-size="11.73" text-anchor="start" class="ax" textLength="25.69" lengthAdjust="spacingAndGlyphs">37°N</text>
<line x1="300.9" y1="729.5" x2="307.2" y2="729.5" stroke="#000" stroke-width="1.6"/>
<text x="307.80" y="733.74" font-size="11.73" text-anchor="start" class="ax" textLength="25.69" lengthAdjust="spacingAndGlyphs">36°N</text>
<text x="294.80" y="584.00" font-size="11.7" text-anchor="end" font-weight="bold" fill="#000" textLength="151.3" lengthAdjust="spacingAndGlyphs" stroke="#000" stroke-width="0.3">p42/r35 CA - Imperial Valley</text>
<polygon points="129.0,582.0 283.2,652.1 206.6,801.6 52.0,731.0" fill="none" stroke="#555" stroke-width="0.8"/>
<circle cx="138.6" cy="586.0" r="2.45" fill="#005CE6"/>
<circle cx="140.4" cy="587.5" r="2.45" fill="#005CE6"/>
<circle cx="141.9" cy="588.7" r="2.45" fill="#005CE6"/>
<circle cx="146.1" cy="590.8" r="2.45" fill="#005CE6"/>
<circle cx="147.8" cy="593.4" r="2.45" fill="#734C00"/>
<circle cx="149.9" cy="594.3" r="2.45" fill="#734C00"/>
<circle cx="152.6" cy="595.5" r="2.45" fill="#734C00"/>
<circle cx="158.0" cy="596.1" r="2.45" fill="#734C00"/>
<circle cx="157.4" cy="599.1" r="2.45" fill="#734C00"/>
<circle cx="157.1" cy="600.9" r="2.45" fill="#734C00"/>
<circle cx="161.3" cy="599.1" r="2.45" fill="#005CE6"/>
<circle cx="165.2" cy="599.1" r="2.45" fill="#005CE6"/>
<circle cx="167.3" cy="600.3" r="2.45" fill="#005CE6"/>
<circle cx="168.5" cy="602.7" r="2.45" fill="#005CE6"/>
<circle cx="171.4" cy="603.9" r="2.45" fill="#005CE6"/>
<circle cx="173.2" cy="605.7" r="2.45" fill="#005CE6"/>
<circle cx="172.6" cy="608.1" r="2.45" fill="#005CE6"/>
<circle cx="171.4" cy="610.5" r="2.45" fill="#005CE6"/>
<circle cx="169.6" cy="612.9" r="2.45" fill="#005CE6"/>
<circle cx="167.6" cy="614.6" r="2.45" fill="#005CE6"/>
<circle cx="164.9" cy="615.8" r="2.45" fill="#005CE6"/>
<circle cx="163.7" cy="618.2" r="2.45" fill="#005CE6"/>
<circle cx="163.1" cy="621.2" r="2.45" fill="#005CE6"/>
<circle cx="163.1" cy="624.2" r="2.45" fill="#005CE6"/>
<circle cx="164.3" cy="627.2" r="2.45" fill="#005CE6"/>
<circle cx="165.5" cy="627.8" r="2.45" fill="#005CE6"/>
<circle cx="164.9" cy="603.9" r="2.45" fill="#005CE6"/>
<circle cx="164.9" cy="606.9" r="2.45" fill="#005CE6"/>
<circle cx="168.5" cy="606.9" r="2.45" fill="#005CE6"/>
<circle cx="170.2" cy="608.1" r="2.45" fill="#005CE6"/>
<circle cx="162.6" cy="626.7" r="2.45" fill="#005CE6"/>
<circle cx="165.1" cy="628.3" r="2.45" fill="#005CE6"/>
<circle cx="151.1" cy="601.5" r="2.45" fill="#005CE6"/>
<circle cx="154.1" cy="600.9" r="2.45" fill="#005CE6"/>
<circle cx="149.3" cy="603.9" r="2.45" fill="#005CE6"/>
<circle cx="149.9" cy="606.9" r="2.45" fill="#005CE6"/>
<circle cx="150.8" cy="609.9" r="2.45" fill="#005CE6"/>
<circle cx="152.3" cy="612.3" r="2.45" fill="#005CE6"/>
<circle cx="154.7" cy="613.5" r="2.45" fill="#005CE6"/>
<circle cx="153.5" cy="615.2" r="2.45" fill="#005CE6"/>
<circle cx="157.1" cy="620.0" r="2.45" fill="#005CE6"/>
<circle cx="137.7" cy="610.8" r="2.45" fill="#005CE6"/>
<circle cx="174.4" cy="621.2" r="2.45" fill="#005CE6"/>
<circle cx="176.8" cy="623.6" r="2.45" fill="#005CE6"/>
<circle cx="121.9" cy="610.0" r="2.45" fill="#734C00"/>
<circle cx="157.6" cy="634.4" r="2.45" fill="#734C00"/>
<circle cx="166.9" cy="633.2" r="2.45" fill="#005CE6"/>
<circle cx="176.5" cy="632.7" r="2.45" fill="#005CE6"/>
<circle cx="183.1" cy="633.4" r="2.45" fill="#005CE6"/>
<circle cx="182.2" cy="636.7" r="2.45" fill="#005CE6"/>
<circle cx="183.9" cy="639.6" r="2.45" fill="#005CE6"/>
<circle cx="186.0" cy="642.1" r="2.45" fill="#005CE6"/>
<circle cx="186.4" cy="643.8" r="2.45" fill="#005CE6"/>
<circle cx="193.5" cy="634.9" r="2.45" fill="#005CE6"/>
<circle cx="192.3" cy="635.9" r="2.45" fill="#005CE6"/>
<circle cx="177.6" cy="654.3" r="2.45" fill="#734C00"/>
<circle cx="149.0" cy="657.8" r="2.45" fill="#005CE6"/>
<circle cx="158.0" cy="655.1" r="2.45" fill="#005CE6"/>
<circle cx="156.7" cy="658.5" r="2.45" fill="#005CE6"/>
<circle cx="157.1" cy="661.0" r="2.45" fill="#005CE6"/>
<circle cx="180.1" cy="663.5" r="2.45" fill="#005CE6"/>
<circle cx="183.5" cy="661.8" r="2.45" fill="#005CE6"/>
<circle cx="188.1" cy="660.5" r="2.45" fill="#005CE6"/>
<circle cx="186.8" cy="665.1" r="2.45" fill="#005CE6"/>
<circle cx="190.2" cy="666.8" r="2.45" fill="#005CE6"/>
<circle cx="183.5" cy="667.7" r="2.45" fill="#005CE6"/>
<circle cx="186.8" cy="669.3" r="2.45" fill="#005CE6"/>
<circle cx="193.5" cy="668.5" r="2.45" fill="#005CE6"/>
<circle cx="196.9" cy="670.6" r="2.45" fill="#005CE6"/>
<circle cx="198.1" cy="673.5" r="2.45" fill="#005CE6"/>
<circle cx="190.2" cy="669.3" r="2.45" fill="#005CE6"/>
<circle cx="182.5" cy="663.4" r="2.45" fill="#005CE6"/>
<circle cx="187.5" cy="660.9" r="2.45" fill="#005CE6"/>
<circle cx="191.7" cy="666.8" r="2.45" fill="#005CE6"/>
<circle cx="195.9" cy="670.1" r="2.45" fill="#005CE6"/>
<circle cx="179.7" cy="674.3" r="2.45" fill="#005CE6"/>
<circle cx="183.5" cy="675.2" r="2.45" fill="#005CE6"/>
<circle cx="181.8" cy="677.7" r="2.45" fill="#005CE6"/>
<circle cx="181.0" cy="680.2" r="2.45" fill="#005CE6"/>
<circle cx="183.1" cy="679.4" r="2.45" fill="#005CE6"/>
<circle cx="181.7" cy="676.0" r="2.45" fill="#005CE6"/>
<circle cx="188.1" cy="685.4" r="2.45" fill="#734C00"/>
<circle cx="190.6" cy="685.4" r="2.45" fill="#734C00"/>
<circle cx="199.4" cy="694.8" r="2.45" fill="#005CE6"/>
<circle cx="201.3" cy="700.2" r="2.45" fill="#005CE6"/>
<circle cx="206.3" cy="698.5" r="2.45" fill="#005CE6"/>
<circle cx="67.2" cy="708.8" r="2.45" fill="#734C00"/>
<circle cx="70.5" cy="705.5" r="2.45" fill="#734C00"/>
<circle cx="75.8" cy="706.0" r="2.45" fill="#734C00"/>
<circle cx="68.4" cy="721.6" r="2.45" fill="#734C00"/>
<circle cx="68.8" cy="723.6" r="2.45" fill="#734C00"/>
<circle cx="72.3" cy="723.6" r="2.45" fill="#734C00"/>
<circle cx="70.3" cy="722.4" r="2.45" fill="#734C00"/>
<circle cx="91.0" cy="715.6" r="2.45" fill="#734C00"/>
<circle cx="96.5" cy="716.2" r="2.45" fill="#734C00"/>
<circle cx="98.0" cy="715.0" r="2.45" fill="#734C00"/>
<circle cx="122.8" cy="708.8" r="2.45" fill="#734C00"/>
<circle cx="122.8" cy="712.3" r="2.45" fill="#734C00"/>
<circle cx="121.9" cy="721.6" r="2.45" fill="#005CE6"/>
<circle cx="123.8" cy="723.0" r="2.45" fill="#734C00"/>
<circle cx="102.7" cy="739.1" r="2.45" fill="#734C00"/>
<circle cx="103.9" cy="738.6" r="2.45" fill="#734C00"/>
<circle cx="176.8" cy="704.9" r="2.45" fill="#734C00"/>
<circle cx="158.0" cy="707.5" r="2.45" fill="#734C00"/>
<circle cx="160.9" cy="711.7" r="2.45" fill="#734C00"/>
<circle cx="163.0" cy="717.2" r="2.45" fill="#734C00"/>
<circle cx="165.5" cy="718.8" r="2.45" fill="#734C00"/>
<circle cx="176.0" cy="720.9" r="2.45" fill="#005CE6"/>
<circle cx="180.2" cy="722.2" r="2.45" fill="#005CE6"/>
<circle cx="178.5" cy="725.1" r="2.45" fill="#005CE6"/>
<circle cx="178.1" cy="728.0" r="2.45" fill="#005CE6"/>
<circle cx="176.4" cy="731.8" r="2.45" fill="#005CE6"/>
<circle cx="178.1" cy="732.6" r="2.45" fill="#005CE6"/>
<circle cx="155.3" cy="731.2" r="2.45" fill="#734C00"/>
<circle cx="163.9" cy="738.7" r="2.45" fill="#005CE6"/>
<circle cx="166.5" cy="749.3" r="2.45" fill="#005CE6"/>
<circle cx="169.0" cy="750.4" r="2.45" fill="#005CE6"/>
<circle cx="168.3" cy="748.6" r="2.45" fill="#005CE6"/>
<circle cx="168.6" cy="751.4" r="2.45" fill="#005CE6"/>
<circle cx="168.6" cy="756.5" r="2.45" fill="#005CE6"/>
<circle cx="172.9" cy="763.6" r="2.45" fill="#005CE6"/>
<circle cx="176.5" cy="760.8" r="2.45" fill="#005CE6"/>
<circle cx="180.1" cy="759.3" r="2.45" fill="#005CE6"/>
<circle cx="183.7" cy="759.3" r="2.45" fill="#005CE6"/>
<circle cx="186.5" cy="761.1" r="2.45" fill="#005CE6"/>
<circle cx="188.7" cy="764.0" r="2.45" fill="#005CE6"/>
<circle cx="173.6" cy="766.5" r="2.45" fill="#005CE6"/>
<circle cx="177.9" cy="765.1" r="2.45" fill="#005CE6"/>
<circle cx="181.5" cy="762.9" r="2.45" fill="#005CE6"/>
<circle cx="182.2" cy="767.2" r="2.45" fill="#005CE6"/>
<circle cx="176.5" cy="768.7" r="2.45" fill="#005CE6"/>
<circle cx="174.4" cy="770.1" r="2.45" fill="#005CE6"/>
<circle cx="185.1" cy="764.4" r="2.45" fill="#005CE6"/>
<circle cx="172.2" cy="770.1" r="2.45" fill="#734C00"/>
<circle cx="175.8" cy="773.0" r="2.45" fill="#005CE6"/>
<circle cx="180.4" cy="777.3" r="2.45" fill="#005CE6"/>
<circle cx="192.3" cy="773.0" r="2.45" fill="#005CE6"/>
<circle cx="195.1" cy="771.5" r="2.45" fill="#005CE6"/>
<circle cx="194.1" cy="770.4" r="2.45" fill="#005CE6"/>
<circle cx="196.4" cy="790.5" r="2.45" fill="#005CE6"/>
<rect x="38.90" y="805.00" width="120.30" height="3.8" fill="#000"/>
<rect x="47.12" y="806.00" width="6.12" height="1.5" fill="#fff"/>
<rect x="62.16" y="806.00" width="6.12" height="1.5" fill="#fff"/>
<rect x="99.75" y="806.00" width="28.67" height="1.5" fill="#fff"/>
<text x="38.90" y="803.00" font-size="5.8" text-anchor="middle" fill="#222">0</text>
<text x="53.94" y="803.00" font-size="5.8" text-anchor="middle" fill="#222">10</text>
<text x="68.97" y="803.00" font-size="5.8" text-anchor="middle" fill="#222">20</text>
<text x="99.05" y="803.00" font-size="5.8" text-anchor="middle" fill="#222">40</text>
<text x="129.12" y="803.00" font-size="5.8" text-anchor="middle" fill="#222">60</text>
<text x="159.20" y="803.00" font-size="5.8" text-anchor="middle" fill="#222">80</text>
<text x="159.70" y="808.90" font-size="5.8" text-anchor="start" fill="#333">Miles</text>
<text x="286.60" y="792.40" font-size="7.0" font-weight="bold" text-anchor="middle" fill="#111" textLength="5.2" lengthAdjust="spacingAndGlyphs">N</text>
<path d="M286.60,794.10 L281.40,811.20 L286.80,805.70 Z" fill="#000"/>
<path d="M286.60,794.10 L291.60,811.20 L286.80,805.70 Z" fill="#fff" stroke="#000" stroke-width="0.8" stroke-linejoin="round"/>
</g>
<g>
<rect x="718.4" y="569.9" width="266.60" height="243.10" fill="none" stroke="#000" stroke-width="1.6"/>
<line x1="739.8" y1="563.6" x2="739.8" y2="569.9" stroke="#000" stroke-width="1.6"/>
<text x="739.80" y="560.30" font-size="11.73" text-anchor="middle" class="ax" textLength="34.64" lengthAdjust="spacingAndGlyphs">121°W</text>
<line x1="802.4" y1="563.6" x2="802.4" y2="569.9" stroke="#000" stroke-width="1.6"/>
<text x="802.40" y="560.30" font-size="11.73" text-anchor="middle" class="ax" textLength="34.64" lengthAdjust="spacingAndGlyphs">120°W</text>
<line x1="865.2" y1="563.6" x2="865.2" y2="569.9" stroke="#000" stroke-width="1.6"/>
<text x="865.20" y="560.30" font-size="11.73" text-anchor="middle" class="ax" textLength="33.78" lengthAdjust="spacingAndGlyphs">119°W</text>
<line x1="927.0" y1="563.6" x2="927.0" y2="569.9" stroke="#000" stroke-width="1.6"/>
<text x="927.00" y="560.30" font-size="11.73" text-anchor="middle" class="ax" textLength="33.78" lengthAdjust="spacingAndGlyphs">118°W</text>
<line x1="739.9" y1="813.0" x2="739.9" y2="819.3" stroke="#000" stroke-width="1.6"/>
<text x="739.90" y="830.00" font-size="11.73" text-anchor="middle" class="ax" textLength="34.64" lengthAdjust="spacingAndGlyphs">120°W</text>
<line x1="804.9" y1="813.0" x2="804.9" y2="819.3" stroke="#000" stroke-width="1.6"/>
<text x="804.90" y="830.00" font-size="11.73" text-anchor="middle" class="ax" textLength="33.78" lengthAdjust="spacingAndGlyphs">119°W</text>
<line x1="870.0" y1="813.0" x2="870.0" y2="819.3" stroke="#000" stroke-width="1.6"/>
<text x="870.00" y="830.00" font-size="11.73" text-anchor="middle" class="ax" textLength="33.78" lengthAdjust="spacingAndGlyphs">118°W</text>
<line x1="934.2" y1="813.0" x2="934.2" y2="819.3" stroke="#000" stroke-width="1.6"/>
<text x="934.20" y="830.00" font-size="11.73" text-anchor="middle" class="ax" textLength="33.78" lengthAdjust="spacingAndGlyphs">117°W</text>
<line x1="712.1" y1="605.4" x2="718.4" y2="605.4" stroke="#000" stroke-width="1.6"/>
<text x="711.70" y="609.64" font-size="11.73" text-anchor="end" class="ax" textLength="25.69" lengthAdjust="spacingAndGlyphs">48°N</text>
<line x1="712.1" y1="698.8" x2="718.4" y2="698.8" stroke="#000" stroke-width="1.6"/>
<text x="711.70" y="703.04" font-size="11.73" text-anchor="end" class="ax" textLength="25.69" lengthAdjust="spacingAndGlyphs">47°N</text>
<line x1="712.1" y1="792.5" x2="718.4" y2="792.5" stroke="#000" stroke-width="1.6"/>
<text x="711.70" y="796.74" font-size="11.73" text-anchor="end" class="ax" textLength="25.69" lengthAdjust="spacingAndGlyphs">46°N</text>
<line x1="985.0" y1="579.9" x2="991.3" y2="579.9" stroke="#000" stroke-width="1.6"/>
<text x="991.90" y="584.14" font-size="11.73" text-anchor="start" class="ax" textLength="25.69" lengthAdjust="spacingAndGlyphs">49°N</text>
<line x1="985.0" y1="671.1" x2="991.3" y2="671.1" stroke="#000" stroke-width="1.6"/>
<text x="991.90" y="675.34" font-size="11.73" text-anchor="start" class="ax" textLength="25.69" lengthAdjust="spacingAndGlyphs">48°N</text>
<line x1="985.0" y1="763.1" x2="991.3" y2="763.1" stroke="#000" stroke-width="1.6"/>
<text x="991.90" y="767.34" font-size="11.73" text-anchor="start" class="ax" textLength="25.69" lengthAdjust="spacingAndGlyphs">47°N</text>
<text x="981.90" y="583.60" font-size="11.7" text-anchor="end" font-weight="bold" fill="#000" textLength="171.1" lengthAdjust="spacingAndGlyphs" stroke="#000" stroke-width="0.3">p44/r27 WA - Columbia Plateau</text>
<polygon points="819.7,596.2 952.3,659.5 882.6,786.4 750.9,722.2" fill="none" stroke="#555" stroke-width="0.8"/>
<circle cx="821.5" cy="611.7" r="2.45" fill="#734C00"/>
<circle cx="827.9" cy="616.3" r="2.45" fill="#734C00"/>
<circle cx="815.7" cy="625.5" r="2.45" fill="#734C00"/>
<circle cx="819.9" cy="628.5" r="2.45" fill="#734C00"/>
<circle cx="830.0" cy="637.1" r="2.45" fill="#734C00"/>
<circle cx="803.2" cy="636.9" r="2.45" fill="#734C00"/>
<circle cx="801.5" cy="639.3" r="2.45" fill="#734C00"/>
<circle cx="800.5" cy="641.5" r="2.45" fill="#734C00"/>
<circle cx="807.4" cy="642.8" r="2.45" fill="#734C00"/>
<circle cx="798.9" cy="649.3" r="2.45" fill="#734C00"/>
<circle cx="816.0" cy="657.7" r="2.45" fill="#734C00"/>
<circle cx="803.2" cy="666.9" r="2.45" fill="#734C00"/>
<circle cx="864.3" cy="672.8" r="2.45" fill="#734C00"/>
<circle cx="816.6" cy="676.8" r="2.45" fill="#734C00"/>
<circle cx="809.4" cy="682.3" r="2.45" fill="#734C00"/>
<circle cx="808.6" cy="686.2" r="2.45" fill="#734C00"/>
<circle cx="786.1" cy="689.5" r="2.45" fill="#734C00"/>
<circle cx="779.4" cy="693.4" r="2.45" fill="#005CE6"/>
<circle cx="886.9" cy="645.5" r="2.45" fill="#734C00"/>
<circle cx="937.1" cy="660.2" r="2.45" fill="#734C00"/>
<circle cx="900.7" cy="669.4" r="2.45" fill="#734C00"/>
<circle cx="916.4" cy="672.3" r="2.45" fill="#734C00"/>
<circle cx="918.4" cy="672.0" r="2.45" fill="#734C00"/>
<circle cx="920.7" cy="673.6" r="2.45" fill="#734C00"/>
<circle cx="921.4" cy="674.9" r="2.45" fill="#734C00"/>
<circle cx="917.0" cy="679.7" r="2.45" fill="#734C00"/>
<circle cx="927.3" cy="682.0" r="2.45" fill="#734C00"/>
<circle cx="924.4" cy="687.4" r="2.45" fill="#734C00"/>
<circle cx="915.5" cy="689.1" r="2.45" fill="#734C00"/>
<circle cx="913.5" cy="693.6" r="2.45" fill="#734C00"/>
<circle cx="915.0" cy="707.0" r="2.45" fill="#734C00"/>
<circle cx="806.1" cy="705.8" r="2.45" fill="#734C00"/>
<circle cx="820.3" cy="707.5" r="2.45" fill="#734C00"/>
<circle cx="825.2" cy="711.3" r="2.45" fill="#734C00"/>
<circle cx="844.0" cy="704.7" r="2.45" fill="#734C00"/>
<circle cx="808.5" cy="709.3" r="2.45" fill="#005CE6"/>
<circle cx="813.1" cy="712.6" r="2.45" fill="#005CE6"/>
<circle cx="816.0" cy="711.0" r="2.45" fill="#005CE6"/>
<circle cx="817.0" cy="713.4" r="2.45" fill="#005CE6"/>
<circle cx="814.7" cy="711.7" r="2.45" fill="#005CE6"/>
<circle cx="768.7" cy="713.4" r="2.45" fill="#734C00"/>
<circle cx="771.3" cy="712.6" r="2.45" fill="#734C00"/>
<circle cx="773.3" cy="713.9" r="2.45" fill="#734C00"/>
<circle cx="772.6" cy="715.0" r="2.45" fill="#734C00"/>
<circle cx="787.3" cy="719.4" r="2.45" fill="#734C00"/>
<circle cx="803.5" cy="724.7" r="2.45" fill="#734C00"/>
<circle cx="806.5" cy="725.5" r="2.45" fill="#734C00"/>
<circle cx="820.3" cy="727.9" r="2.45" fill="#734C00"/>
<circle cx="825.2" cy="738.9" r="2.45" fill="#734C00"/>
<circle cx="836.6" cy="742.3" r="2.45" fill="#734C00"/>
<circle cx="850.2" cy="755.1" r="2.45" fill="#734C00"/>
<circle cx="851.7" cy="759.0" r="2.45" fill="#734C00"/>
<circle cx="852.5" cy="761.0" r="2.45" fill="#734C00"/>
<circle cx="845.5" cy="761.0" r="2.45" fill="#734C00"/>
<circle cx="843.8" cy="763.0" r="2.45" fill="#734C00"/>
<circle cx="857.0" cy="771.8" r="2.45" fill="#734C00"/>
<circle cx="881.3" cy="713.1" r="2.45" fill="#734C00"/>
<circle cx="883.3" cy="712.9" r="2.45" fill="#734C00"/>
<circle cx="881.9" cy="741.7" r="2.45" fill="#734C00"/>
<circle cx="875.1" cy="745.5" r="2.45" fill="#734C00"/>
<circle cx="884.2" cy="745.3" r="2.45" fill="#734C00"/>
<circle cx="885.2" cy="746.7" r="2.45" fill="#734C00"/>
<circle cx="891.8" cy="748.4" r="2.45" fill="#734C00"/>
<circle cx="892.5" cy="755.6" r="2.45" fill="#734C00"/>
<rect x="722.90" y="806.50" width="105.10" height="3.8" fill="#000"/>
<rect x="730.17" y="808.00" width="5.17" height="1.5" fill="#fff"/>
<rect x="743.31" y="808.00" width="5.17" height="1.5" fill="#fff"/>
<rect x="776.15" y="808.00" width="24.88" height="1.5" fill="#fff"/>
<text x="722.90" y="804.50" font-size="5.8" text-anchor="middle" fill="#222">0</text>
<text x="736.04" y="804.50" font-size="5.8" text-anchor="middle" fill="#222">10</text>
<text x="749.17" y="804.50" font-size="5.8" text-anchor="middle" fill="#222">20</text>
<text x="775.45" y="804.50" font-size="5.8" text-anchor="middle" fill="#222">40</text>
<text x="801.73" y="804.50" font-size="5.8" text-anchor="middle" fill="#222">60</text>
<text x="828.00" y="804.50" font-size="5.8" text-anchor="middle" fill="#222">80</text>
<text x="828.50" y="810.40" font-size="5.8" text-anchor="start" fill="#333">Miles</text>
<text x="976.80" y="789.00" font-size="7.0" font-weight="bold" text-anchor="middle" fill="#111" textLength="5.2" lengthAdjust="spacingAndGlyphs">N</text>
<path d="M976.80,790.70 L971.60,807.80 L977.00,802.30 Z" fill="#000"/>
<path d="M976.80,790.70 L981.80,807.80 L977.00,802.30 Z" fill="#fff" stroke="#000" stroke-width="0.8" stroke-linejoin="round"/>
</g>
</svg>
</body></html>
